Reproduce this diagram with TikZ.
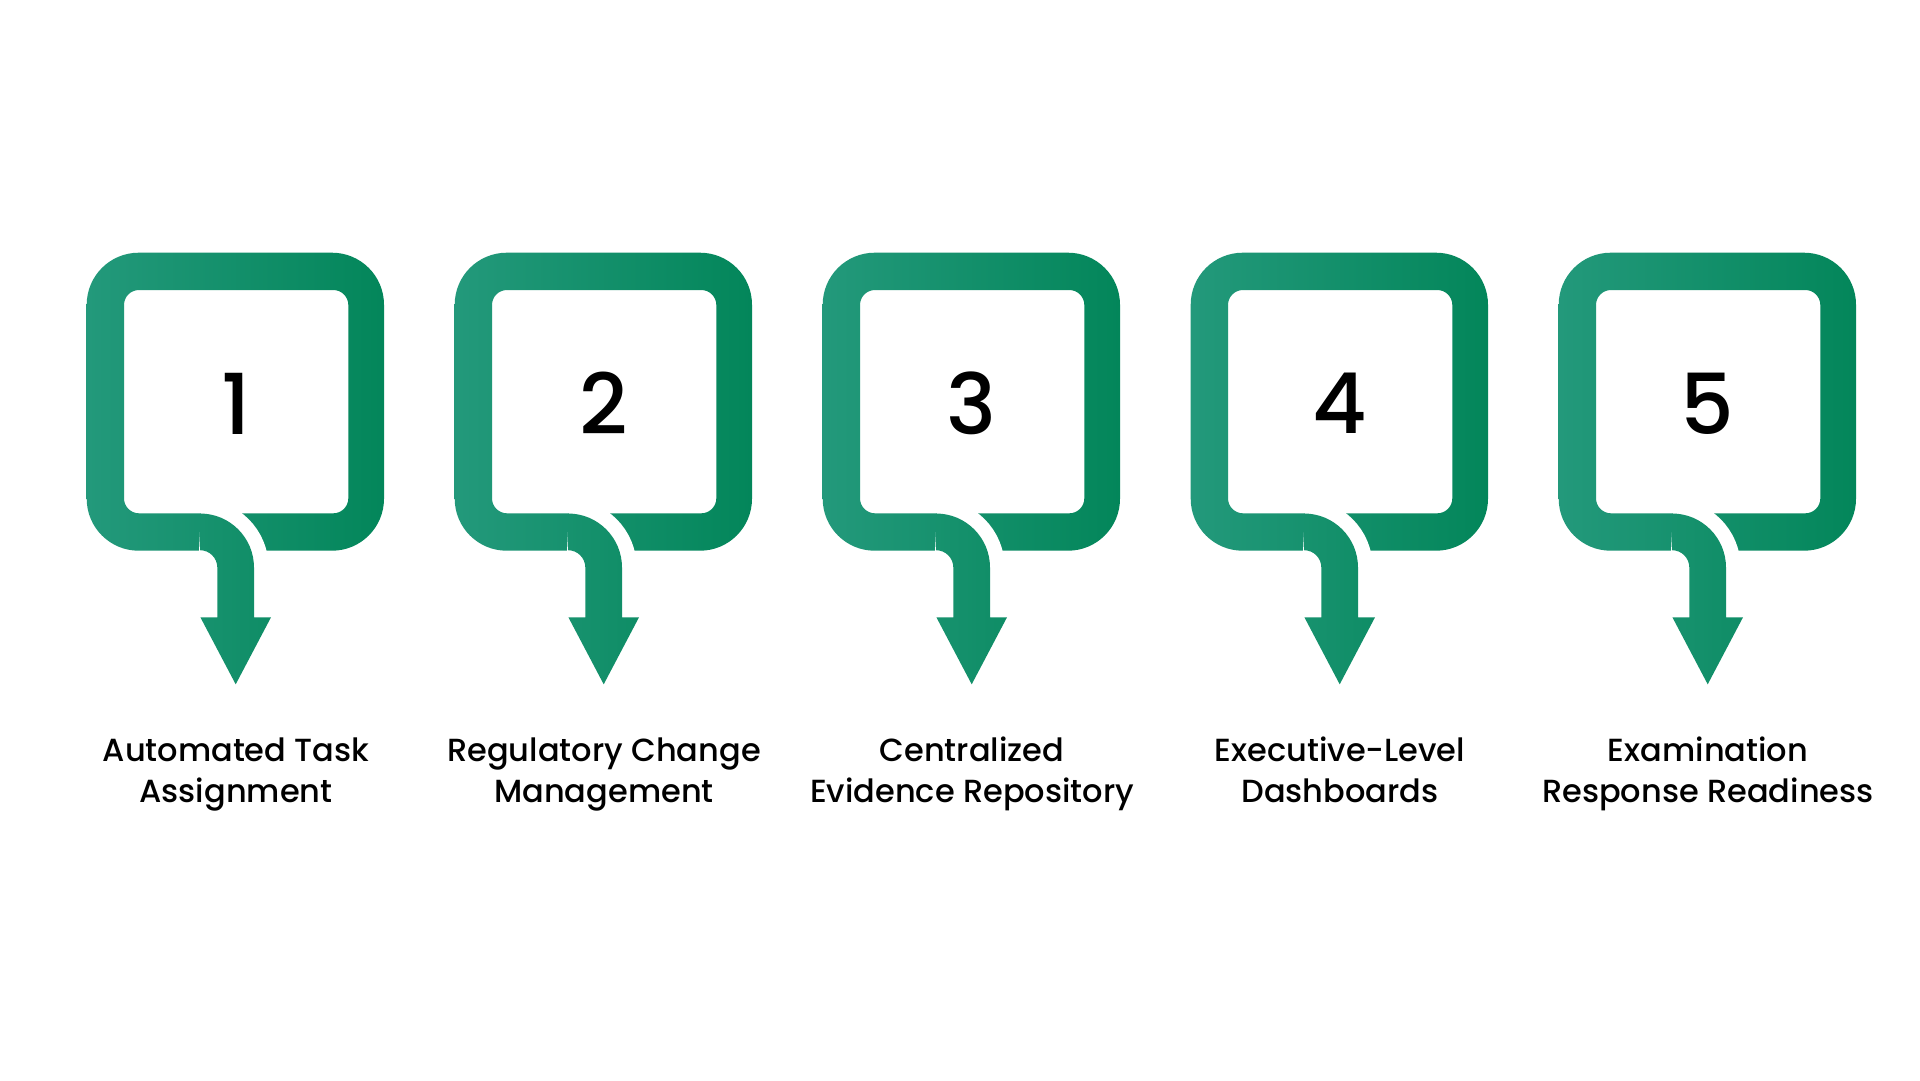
\documentclass[tikz,border=0pt]{standalone}
\usepackage{fontspec}
\setmainfont{Poppins Medium}
\definecolor{gl}{RGB}{35,153,123}
\definecolor{gr}{RGB}{3,134,90}
\definecolor{tl}{RGB}{23,146,110}
\definecolor{tr}{RGB}{15,141,102}
\tikzset{
  ring/.style={left color=gl,right color=gr,even odd rule},
  halo/.style={draw=white,line width=66pt},
  tailshape/.style={left color=tl,right color=tr},
  numtext/.style={font=\fontsize{84}{84}\selectfont,inner sep=0pt,text=black},
  labtext/.style={font=\fontsize{32}{41}\selectfont,align=center,anchor=base,inner sep=0pt,text=black}
}
\begin{document}
\begin{tikzpicture}[x=1pt,y=-1pt]
\useasboundingbox[fill=white] (0,0) rectangle (1920,1080);
\foreach \i/\num/\la/\lb in {0/1/Automated Task/Assignment,1/2/Regulatory Change/Management,2/3/Centralized/Evidence Repository,3/4/Executive-Level/Dashboards,4/5/Examination/Response Readiness}{
  \begin{scope}[xshift=\i*368pt]
    \shade[ring,rounded corners=52pt] (86.7,252.7) rectangle (384,550.7)
      [rounded corners=15pt] (124,290) rectangle (348.3,513.3);
    \draw[halo] (200,532) arc[start angle=270,end angle=360,radius=35.65] -- (235.65,625);
    \shade[tailshape] (200,513.5) arc[start angle=270,end angle=360,radius=54]
      -- (254,617.3) -- (271,617.3) -- (235.7,684.3) -- (200.4,617.3) -- (217.3,617.3)
      -- (217.3,567.5) arc[start angle=0,end angle=-90,radius=17.3] -- cycle;
    \node[numtext] (n\num) at (235.7,403.7) {\num};
    \node[labtext] (l\num) at (236,802.5) {\la\\\lb};
  \end{scope}
}
\end{tikzpicture}
\end{document}
